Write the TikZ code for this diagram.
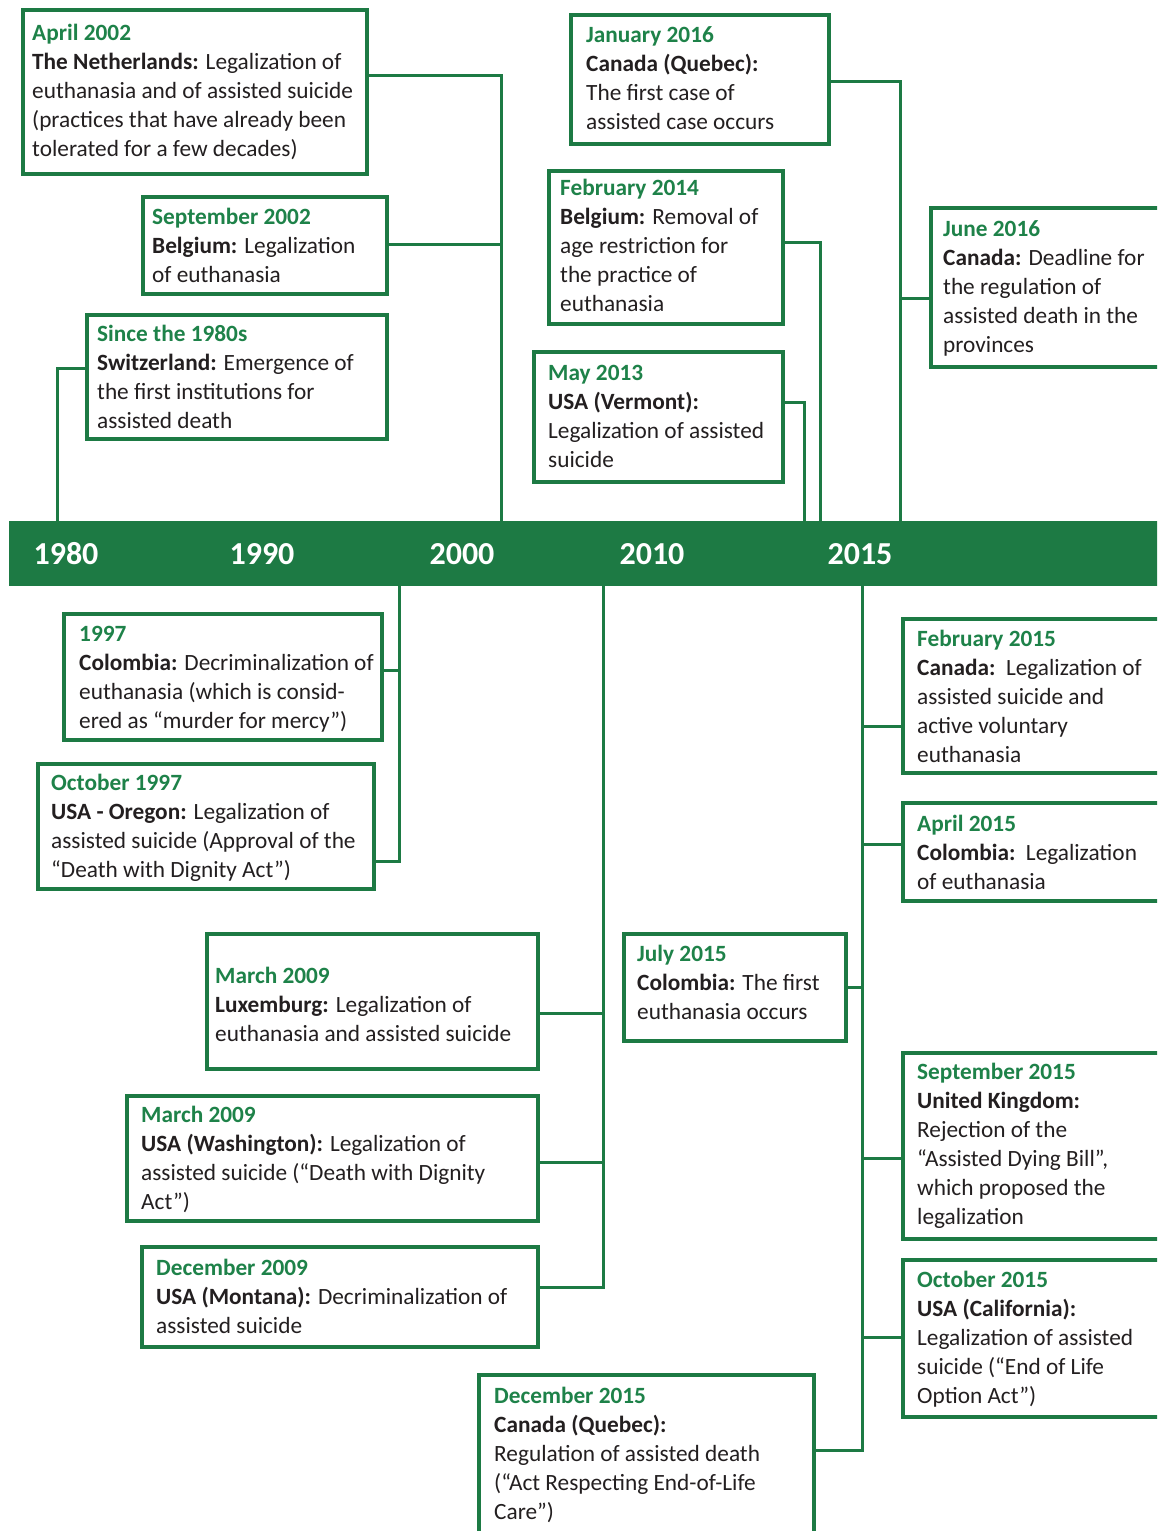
\documentclass[tikz,border=0pt]{standalone}
\usepackage{fontspec}
\setmainfont{Carlito}
\definecolor{lineg}{HTML}{1D7A44}
\definecolor{tgreen}{HTML}{1E8249}
\definecolor{tdark}{HTML}{231F20}
\tikzset{
  frame/.style={draw=lineg, line width=3.5pt, inner sep=0pt, fill=white},
  evtext/.style={inner sep=0pt, align=left, text=tdark, font=\fontsize{23.3}{29}\selectfont},
  conn/.style={draw=lineg, line width=3pt, line join=miter},
  yearlbl/.style={text=white, font=\fontsize{32}{36}\selectfont\bfseries, inner sep=0pt}
}
% name, x1, y1, x2, y2, text x, first-line centre y, title, body
\newcommand\evbox[9]{%
  \node[frame, minimum width={#4-#2}, minimum height={#5-#3}] (#1) at ({(#2+#4)/2},{(#3+#5)/2}) {};
  \node[evtext, anchor=north west] (#1t) at (#6,{#7-12}) {\rule{0pt}{20pt}\textcolor{tgreen}{\textbf{#8}}\\#9};
}
\begin{document}
\begin{tikzpicture}[x=1pt,y=-1pt]
\useasboundingbox (0,0) rectangle (1157,1531);
\clip (0,0) rectangle (1157,1531);
\fill[white] (0,0) rectangle (1157,1531);

% timeline bar
\node[fill=lineg, inner sep=0pt, minimum width=1170pt, minimum height=65pt, anchor=north west] (bar) at (9,521) {};
\node[yearlbl] (y1980) at (66,554) {1980};
\node[yearlbl] (y1990) at (262,554) {1990};
\node[yearlbl] (y2000) at (462,554) {2000};
\node[yearlbl] (y2010) at (652,554) {2010};
\node[yearlbl] (y2015) at (860,554) {2015};

% boxes above
\evbox{b1}{23}{10}{367}{174}{32}{32}{April 2002}{\textbf{The Netherlands:} Legalization of\\euthanasia and of assisted suicide\\(practices that have already been\\tolerated for a few decades)}
\evbox{b2}{143}{197}{387}{294}{152}{216}{September 2002}{\textbf{Belgium:} Legalization\\of euthanasia}
\evbox{b3}{87}{315}{387}{439}{97}{333}{Since the 1980s}{\textbf{Switzerland:} Emergence of\\the first institutions for\\assisted death}
\evbox{b4}{571}{15}{829}{144}{586}{34}{January 2016}{\textbf{Canada (Quebec):}\\The first case of\\assisted case occurs}
\evbox{b5}{549}{171}{783}{324}{560}{187}{February 2014}{\textbf{Belgium:} Removal of\\age restriction for\\the practice of\\euthanasia}
\evbox{b6}{931}{208}{1175}{367}{943}{228}{June 2016}{\textbf{Canada:} Deadline for\\the regulation of\\assisted death in the\\provinces}
\evbox{b7}{534}{352}{783}{482}{548}{372}{May 2013}{\textbf{USA (Vermont):}\\Legalization of assisted\\suicide}

% boxes below
\evbox{b8}{64}{614}{382}{740}{79}{633}{1997}{\textbf{Colombia:} Decriminalization of\\euthanasia (which is consid-\\ered as “murder for mercy”)}
\evbox{b9}{38}{764}{374}{889}{51}{782}{October 1997}{\textbf{USA - Oregon:} Legalization of\\assisted suicide (Approval of the\\“Death with Dignity Act”)}
\evbox{b10}{207}{934}{538}{1069}{215}{975}{March 2009}{\textbf{Luxemburg:} Legalization of\\euthanasia and assisted suicide}
\evbox{b11}{127}{1096}{538}{1221}{141}{1114}{March 2009}{\textbf{USA (Washington):} Legalization of\\assisted suicide (“Death with Dignity\\Act”)}
\evbox{b12}{142}{1247}{538}{1347}{156}{1267}{December 2009}{\textbf{USA (Montana):} Decriminalization of\\assisted suicide}
\evbox{b13}{624}{934}{846}{1041}{637}{953}{July 2015}{\textbf{Colombia:} The first\\euthanasia occurs}
\evbox{b14}{903}{619}{1175}{773}{917}{638}{February 2015}{\textbf{Canada:}\ \ Legalization of\\assisted suicide and\\active voluntary\\euthanasia}
\evbox{b15}{903}{803}{1175}{901}{917}{823}{April 2015}{\textbf{Colombia:}\ \ Legalization\\of euthanasia}
\evbox{b16}{903}{1053}{1175}{1239}{917}{1071}{September 2015}{\textbf{United Kingdom:}\\Rejection of the\\“Assisted Dying Bill”,\\which proposed the\\legalization}
\evbox{b17}{903}{1260}{1175}{1417}{917}{1279}{October 2015}{\textbf{USA (California):}\\Legalization of assisted\\suicide (“End of Life\\Option Act”)}
\evbox{b18}{479}{1375}{814}{1560}{494}{1395}{December 2015}{\textbf{Canada (Quebec):}\\Regulation of assisted death\\(“Act Respecting End-of-Life\\Care”)}

% junction points on the trunks
\coordinate (k1) at (501,75);
\coordinate (k2) at (501,244);
\coordinate (k3) at (57,368);
\coordinate (k4) at (900,81);
\coordinate (k5) at (820,242);
\coordinate (k6) at (900,298);
\coordinate (k7) at (804,402);
\coordinate (k8) at (399,670);
\coordinate (k9) at (399,861);
\coordinate (k10) at (603,1013);
\coordinate (k11) at (603,1162);
\coordinate (k12) at (603,1287);
\coordinate (k13) at (862,987);
\coordinate (k14) at (862,726);
\coordinate (k15) at (862,844);
\coordinate (k16) at (862,1158);
\coordinate (k17) at (862,1337);
\coordinate (k18) at (862,1450);

% connectors above the bar
\draw[conn] (b1.east |- k1) -- (k1) -- (k1 |- bar.north);
\draw[conn] (b2.east |- k2) -- (k2);
\draw[conn] (b3.west |- k3) -- (k3) -- (k3 |- bar.north);
\draw[conn] (b4.east |- k4) -- (k4) -- (k4 |- bar.north);
\draw[conn] (b6.west |- k6) -- (k6);
\draw[conn] (b5.east |- k5) -- (k5) -- (k5 |- bar.north);
\draw[conn] (b7.east |- k7) -- (k7) -- (k7 |- bar.north);

% connectors below the bar
\draw[conn] (k9 |- bar.south) -- (k9) -- (b9.east |- k9);
\draw[conn] (b8.east |- k8) -- (k8);
\draw[conn] (k12 |- bar.south) -- (k12) -- (b12.east |- k12);
\draw[conn] (b10.east |- k10) -- (k10);
\draw[conn] (b11.east |- k11) -- (k11);
\draw[conn] (k18 |- bar.south) -- (k18) -- (b18.east |- k18);
\draw[conn] (b13.east |- k13) -- (k13);
\draw[conn] (b14.west |- k14) -- (k14);
\draw[conn] (b15.west |- k15) -- (k15);
\draw[conn] (b16.west |- k16) -- (k16);
\draw[conn] (b17.west |- k17) -- (k17);
\end{tikzpicture}
\end{document}
